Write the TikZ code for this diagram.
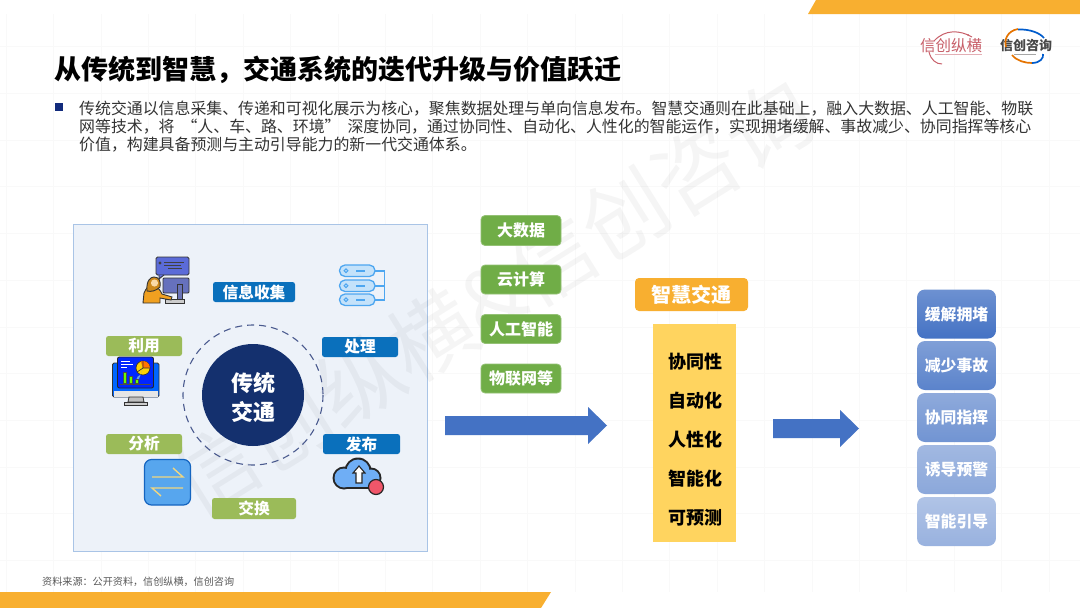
\documentclass[tikz,border=0pt]{standalone}
\usepackage{fontspec}
\setmainfont{Noto Sans CJK SC}
\usetikzlibrary{shapes.geometric}
\definecolor{band}{HTML}{F8AF30}
\definecolor{bluelab}{HTML}{0A70BC}
\definecolor{greenlab}{HTML}{9BBB59}
\definecolor{greenbox}{HTML}{70AD47}
\definecolor{navy}{HTML}{14306E}
\definecolor{arrowblue}{HTML}{4472C4}
\definecolor{panelfill}{HTML}{EDF2F9}
\definecolor{panelline}{HTML}{A9C4E6}
\definecolor{softyellow}{HTML}{FFD45F}
\definecolor{dashblue}{HTML}{4A5A8E}
\definecolor{logored}{HTML}{C8606A}
\definecolor{iconblue}{HTML}{5B6BD8}
\definecolor{skyline}{HTML}{4DA6F0}
\definecolor{skyfill}{HTML}{C4E2FA}
\definecolor{swapfill}{HTML}{57A6EE}
\definecolor{swapline}{HTML}{1565C0}
\definecolor{swaparrow}{HTML}{F0D680}
\definecolor{cloudfill}{HTML}{6FAEF5}
\definecolor{dotred}{HTML}{F0566A}
\definecolor{pers}{HTML}{F0A020}
\newcommand{\fsz}[1]{\fontsize{#1}{#1}\selectfont}
\tikzset{
  lab/.style={rounded corners=2.5pt,inner sep=0pt,text=white,font=\bfseries\fsz{15.7}},
  bluelabel/.style={lab,fill=bluelab},
  greenlabel/.style={lab,fill=greenlab},
  techbox/.style={rounded corners=4pt,inner sep=0pt,minimum width=80pt,fill=greenbox,draw=greenbox!75!white,line width=.8pt,text=white,font=\bfseries\fsz{16}},
  goalbox/.style={rounded corners=8pt,inner sep=0pt,minimum width=79pt,minimum height=49pt,text=white,font=\bfseries\fsz{15.8}},
  trait/.style={inner sep=0pt,text=black,font=\bfseries\fsz{18}},
  gridline/.style={draw=black!2.5,line width=.7pt},
}
\begin{document}
\begin{tikzpicture}[x=1pt,y=-1pt]
\useasboundingbox (0,0) rectangle (1080,608);
\fill[white] (0,0) rectangle (1080,608);
% faint grid
\foreach \k in {0,...,22} \draw[gridline] ({6.2+47.4*\k},14) -- ({6.2+47.4*\k},592);
\foreach \k in {1,...,12} \draw[gridline] (0,{46.7*\k}) -- (1080,{46.7*\k});
% bands
\fill[band] (816,0) -- (1080,0) -- (1080,14) -- (808,14) -- cycle;
\fill[band] (0,592) -- (551,592) -- (541,608) -- (0,608) -- cycle;
% title and text
\node[anchor=west,inner sep=0pt,font=\bfseries\fsz{27}] (title) at (54,70) {从传统到智慧，交通系统的迭代升级与价值跃迁};
\fill[navy!90!blue] (55,103) rectangle (63,111);
\begin{scope}[every node/.style={anchor=west,inner sep=0pt,text=black!80,font=\fsz{15.9}}]
\node (l1) at (79,109) {传统交通以信息采集、传递和可视化展示为核心，聚焦数据处理与单向信息发布。智慧交通则在此基础上，融入大数据、人工智能、物联};
\node (l2) at (79,127) {网等技术，将\hspace{7pt}“人、车、路、环境”\hspace{7pt}深度协同，通过协同性、自动化、人性化的智能运作，实现拥堵缓解、事故减少、协同指挥等核心};
\node (l3) at (79,145) {价值，构建具备预测与主动引导能力的新一代交通体系。};
\end{scope}
% logos
\node[inner sep=0pt,text=logored,font=\fsz{15.5}] (logoa) at (951,46) {信创纵横};
\draw[logored,line width=1pt] (934,41) .. controls (945,29) and (960,30) .. (972,37);
\draw[logored,line width=1pt] (929,52) .. controls (931,60) and (936,64) .. (942,64);
\draw[logored!50!white,line width=.5pt] (935,54.5) -- (982,54.5);
\fill[logored] (968,35) circle (1);
\node[inner sep=0pt,text=black!72,font=\bfseries\fsz{13}] (logob) at (1026,45.5) {信创咨询};
\draw[orange!90!black,line width=1.7pt] (1018,29) .. controls (1007,31) and (1004,40) .. (1006,47);
\draw[blue!55!cyan!80!black,line width=1.7pt] (1018,29.5) .. controls (1030,29) and (1040,33) .. (1044,38);
\draw[orange!90!black,line width=1.7pt] (1012,55) .. controls (1017,61) and (1025,63) .. (1032,63);
\draw[blue!55!cyan!80!black,line width=1.7pt] (1032,63) .. controls (1040,63) and (1044,58) .. (1043,54);
\draw[black!35,line width=.5pt] (1014,54) -- (1036,54);
% panel
\draw[fill=panelfill,draw=panelline,line width=.8pt] (73,224) rectangle (427,551);
% watermark
\node[rotate=32,inner sep=0pt,opacity=.04,font=\fsz{85}] (wm) at (492,298) {信创纵横\&信创咨询};
% centre
\draw[dashblue,line width=1.1pt,dash pattern=on 7pt off 5pt] (253,395) circle (70);
\node[circle,fill=navy,minimum size=102pt,inner sep=0pt] (core) at (253,395) {};
\node[inner sep=0pt,text=white,font=\bfseries\fsz{22}] (coretop) at (253,383) {传统};
\node[inner sep=0pt,text=white,font=\bfseries\fsz{22}] (corebot) at (253,411.5) {交通};
% labels
\node[bluelabel,minimum width=82pt,minimum height=20pt] (collect) at (254,292) {信息收集};
\node[bluelabel,minimum width=76pt,minimum height=20pt] (process) at (360,347) {处理};
\node[bluelabel,minimum width=77pt,minimum height=20pt] (publish) at (361.5,444) {发布};
\node[greenlabel,minimum width=76pt,minimum height=20pt] (use) at (144,346) {利用};
\node[greenlabel,minimum width=76pt,minimum height=20pt] (analyse) at (144,444) {分析};
\node[greenlabel,minimum width=84pt,minimum height=21pt] (swap) at (254,508.5) {交换};
% person icon
\draw[black!80,fill=iconblue,rounded corners=1.5pt,line width=.9pt] (156,257) rectangle (189,275);
\draw[black!80,fill=iconblue,line width=.8pt] (159,275) -- (159,279) -- (164,275);
\fill[black!75] (160,263) circle (1.6);
\draw[black!75,line width=.8pt] (164,262) -- (184,262) (164,265) -- (181,265) (168,268) -- (182,268);
\draw[black!80,fill=iconblue!70!gray,rounded corners=1pt,line width=.9pt] (163,278) rectangle (189,293);
\draw[black!80,fill=iconblue!60!gray,line width=.9pt] (177,284) rectangle (182,302);
\draw[black!80,fill=black!20,line width=.8pt] (165,299) rectangle (184,303);
\draw[black!80,fill=pers,line width=.9pt] (143,303) -- (144,293) .. controls (146,287) and (150,286) .. (154,286) .. controls (158,287) and (160,290) .. (162,294) -- (172,297) -- (171,300) -- (160,298) -- (160,303) -- cycle;
\draw[black!80,fill=pers!85!black,line width=.9pt] (147,291) .. controls (146,280) and (151,277) .. (154,277) .. controls (159,277) and (161,281) .. (160,287) .. controls (156,291) and (151,292) .. (147,291) -- cycle;
\fill[pers!40!white] (154.5,283) circle (3.6);
% server icon
\foreach \yy in {265,280,294}{
  \draw[skyline,fill=skyfill,line width=1.3pt,rounded corners=5.5pt] (339.5,\yy) rectangle ++(35.5,11.5);
  \draw[skyline,line width=1pt] (346,{\yy+5.75}) circle (1.8);
  \draw[skyline,line width=1.5pt] (356,{\yy+5.75}) -- (365,{\yy+5.75});
}
\draw[skyline,line width=1.2pt] (375,271) -- (384.5,271) -- (384.5,300) -- (375,300) (375,286) -- (384.5,286);
% monitor icon
\draw[black!80,fill=blue!60!cyan,rounded corners=1.5pt,line width=.9pt] (112.5,363) rectangle (159,397);
\fill[black!10] (113.5,391) rectangle (158,396.5);
\draw[black!80,fill=black!25,line width=.8pt] (129,397) -- (143,397) -- (144,402) -- (128,402) -- cycle;
\draw[black!80,fill=black!20,line width=.8pt] (124,402) rectangle (147,405);
\draw[black!85,fill=blue!85!cyan,rounded corners=2pt,line width=.9pt] (117.5,357) rectangle (153.5,388);
\draw[black!80,line width=.7pt,fill=yellow!70!orange] (143,368) circle (7);
\fill[orange!90!red] (143,368) -- (150,368) arc (0:-110:7) -- cycle;
\fill[cyan!60!blue!60!white] (143,368) -- (140.6,374.6) arc (250:150:7) -- cycle;
\draw[black!80,line width=.7pt] (143,368) -- (150,368) (143,368) -- (143,361) (143,368) -- (137,372);
\draw[white,line width=.6pt] (121,361) -- (130,361) (121,364) -- (133,364) (121,367) -- (127,367);
\draw[black!70,fill=green!60!yellow,line width=.5pt] (123,372) rectangle (126.5,383);
\draw[black!70,fill=green!60!yellow,line width=.5pt] (129,376) rectangle (132,383);
\draw[black!70,fill=green!60!yellow,line width=.5pt] (135,379) rectangle (138,383);
\draw[black!70,line width=.5pt] (120,384) -- (151,384);
% exchange icon
\draw[swapline,fill=swapfill,rounded corners=7pt,line width=1.2pt] (144.5,459.5) rectangle (190.5,505);
\draw[swaparrow,line width=1.4pt] (152,477) -- (183,477) -- (173,468);
\draw[swaparrow,line width=1.4pt] (183,488) -- (152,488) -- (161,496);
% cloud icon
\fill[black!85] (344,478) circle (11.5);
\fill[black!85] (358,471) circle (13.5);
\fill[black!85] (371,478) circle (10.5);
\fill[black!85] (343,479) rectangle (371,488.5);
\fill[cloudfill] (344,478) circle (9.5);
\fill[cloudfill] (358,471) circle (11.5);
\fill[cloudfill] (371,478) circle (8.5);
\fill[cloudfill] (343,479) rectangle (371,486.5);
\draw[black!85,fill=white,line width=1.1pt] (359,466) -- (365,473) -- (362,473) -- (362,483) -- (356,483) -- (356,473) -- (353,473) -- cycle;
\draw[black!85,fill=dotred,line width=1.2pt] (376,487) circle (7.5);
% technology boxes
\node[techbox,minimum height=30pt] (bigdata) at (521,230.5) {大数据};
\node[techbox,minimum height=29pt] (cloud) at (521,279.5) {云计算};
\node[techbox,minimum height=29pt] (ai) at (521,329) {人工智能};
\node[techbox,minimum height=29pt] (iot) at (521,378.5) {物联网等};
% arrows
\fill[arrowblue] (445,416) -- (588,416) -- (588,407) -- (607,425.5) -- (588,444) -- (588,435) -- (445,435) -- cycle;
\fill[arrowblue] (773,419) -- (840,419) -- (840,410) -- (859,428.5) -- (840,447) -- (840,438) -- (773,438) -- cycle;
% smart traffic
\node[rounded corners=4pt,fill=band,inner sep=0pt,minimum width=113pt,minimum height=33pt,text=white,font=\bfseries\fsz{20}] (smart) at (691.5,294.5) {智慧交通};
\fill[softyellow] (653,324) rectangle (736,542);
\node[trait] (t1) at (695,361.5) {协同性};
\node[trait] (t2) at (695,400.5) {自动化};
\node[trait] (t3) at (695,439.5) {人性化};
\node[trait] (t4) at (695,478.5) {智能化};
\node[trait] (t5) at (695,517.5) {可预测};
% goal boxes
\node[goalbox,top color=arrowblue!78!white,bottom color=arrowblue] (g1) at (956.5,314) {缓解拥堵};
\node[goalbox,top color=arrowblue!68!white,bottom color=arrowblue!88!white] (g2) at (956.5,365.5) {减少事故};
\node[goalbox,top color=arrowblue!60!white,bottom color=arrowblue!76!white] (g3) at (956.5,417.5) {协同指挥};
\node[goalbox,top color=arrowblue!50!white,bottom color=arrowblue!62!white] (g4) at (956.5,469.5) {诱导预警};
\node[goalbox,top color=arrowblue!42!white,bottom color=arrowblue!55!white] (g5) at (956.5,521.5) {智能引导};
% source
\node[anchor=west,inner sep=0pt,text=black!65,font=\fsz{10.1}] (source) at (42,581.5) {资料来源：公开资料，信创纵横，信创咨询};
\end{tikzpicture}
\end{document}
